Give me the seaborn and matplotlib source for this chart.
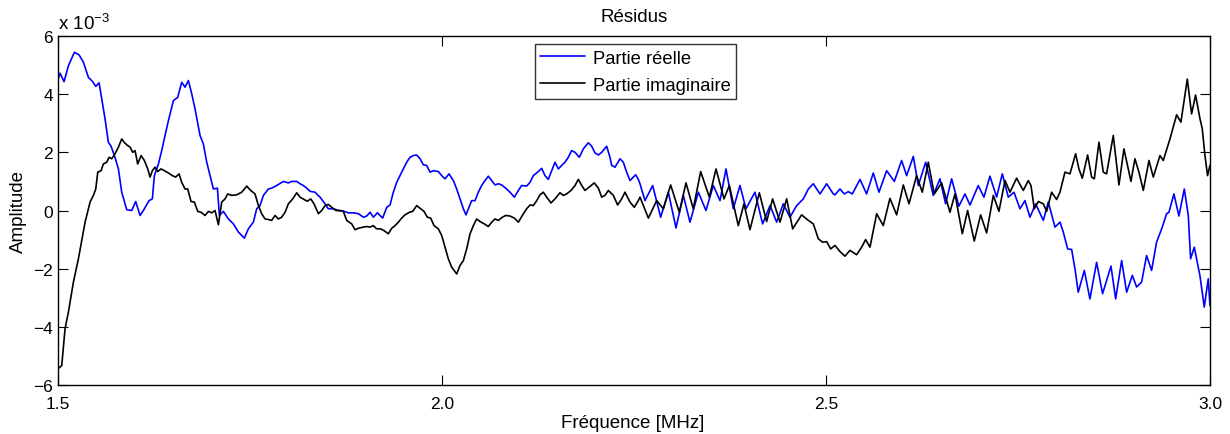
import numpy as np
import pandas as pd
from matplotlib import pyplot as plt
import seaborn as sns

# frequences (MHz) et amplitudes (x 1e-3)
freq_reel = [1.500, 1.5026, 1.5078, 1.5135, 1.5213, 1.5274, 1.5330, 1.5395, 1.5451, 1.5491,
             1.5534, 1.5569, 1.5612, 1.5655, 1.5690, 1.5734, 1.5786, 1.5829, 1.5894, 1.5959,
             1.6011, 1.6068, 1.6111, 1.6185, 1.6228, 1.6254, 1.6307, 1.6350, 1.6393, 1.6437,
             1.6502, 1.6558, 1.6610, 1.6654, 1.6697, 1.6741, 1.6784, 1.6849, 1.6892, 1.6936,
             1.6979, 1.7023, 1.7075, 1.7101, 1.7153, 1.7218, 1.7283, 1.7348, 1.7426, 1.7478,
             1.7543, 1.7587, 1.7630, 1.7674, 1.7739, 1.7782, 1.7847, 1.7934, 1.7999, 1.8043,
             1.8108, 1.8151, 1.8194, 1.8238, 1.8281, 1.8346, 1.8411, 1.8477, 1.8520, 1.8585,
             1.8650, 1.8715, 1.8780, 1.8845, 1.8911, 1.8976, 1.9019, 1.9063, 1.9106, 1.9158,
             1.9227, 1.9280, 1.9323, 1.9366, 1.9410, 1.9475, 1.9540, 1.9583, 1.9627, 1.9670,
             1.9714, 1.9757, 1.9800, 1.9844, 1.9887, 1.9952, 1.9996,
             2.0039, 2.0091, 2.0148, 2.0191, 2.0234, 2.0278, 2.0312, 2.0352, 2.0386, 2.0430,
             2.0473, 2.0516, 2.0560, 2.0603, 2.0647, 2.0690, 2.0733, 2.0777, 2.0842, 2.0885,
             2.0942, 2.0994, 2.1037, 2.1102, 2.1146, 2.1189, 2.1254, 2.1298, 2.1341, 2.1384,
             2.1428, 2.1471, 2.1515, 2.1558, 2.1601, 2.1645, 2.1688, 2.1732, 2.1788, 2.1840,
             2.1905, 2.1949, 2.1992, 2.2036, 2.2079, 2.2144, 2.2187, 2.2209, 2.2253, 2.2318,
             2.2361, 2.2404, 2.2448, 2.2491, 2.2522, 2.2556,
             2.2578, 2.2643, 2.2743, 2.2847, 2.2947, 2.3047, 2.3142, 2.3229, 2.3338, 2.3437,
             2.3533, 2.3620, 2.3698, 2.3793, 2.3880, 2.3958, 2.4075, 2.4175, 2.4271, 2.4358,
             2.4444, 2.4531, 2.4618, 2.4705, 2.4770, 2.4835, 2.4922, 2.5009, 2.5095,
             2.5117, 2.5182, 2.5239, 2.5291, 2.5343, 2.5443, 2.5529, 2.5616, 2.5690, 2.5790,
             2.5890, 2.5985, 2.6050, 2.6137, 2.6202, 2.6298, 2.6397, 2.6484, 2.6558, 2.6636,
             2.6731, 2.6810, 2.6875, 2.6983, 2.7057, 2.7135, 2.7222, 2.7296, 2.7374, 2.7448,
             2.7526,
             2.7591, 2.7656, 2.7730, 2.7830, 2.7895, 2.7982, 2.8047, 2.8090, 2.8147, 2.8199,
             2.8242, 2.8285, 2.8364, 2.8437, 2.8524, 2.8602, 2.8711, 2.8772, 2.8850, 2.8915,
             2.8989, 2.9045, 2.9110, 2.9175, 2.9240, 2.9305, 2.9371, 2.9436, 2.9466, 2.9531,
             2.9596, 2.9666, 2.9718, 2.9748, 2.9796, 2.9835, 2.9869, 2.9926, 2.9978, 3.000]
reel = [4.50, 4.72, 4.43, 4.98, 5.44, 5.35, 5.10, 4.58, 4.43, 4.27,
        4.39, 3.84, 3.15, 2.35, 2.21, 1.89, 1.43, 0.63, 0.03, 0.00,
        0.31, -0.17, 0.00, 0.34, 0.40, 1.20, 1.60, 2.06, 2.58, 3.09,
        3.78, 3.89, 4.41, 4.24, 4.47, 4.01, 3.49, 2.58, 2.29, 1.66,
        1.20, 0.74, 0.77, -0.17, -0.03, -0.29, -0.46, -0.74, -0.95, -0.63,
        -0.40, 0.06, 0.17, 0.52, 0.74, 0.77, 0.86, 1.00, 0.95, 1.00,
        1.00, 0.92, 0.86, 0.77, 0.66, 0.63, 0.46, 0.23, 0.06, 0.06,
        0.00, -0.02, -0.08, -0.08, -0.11, -0.23, -0.19, -0.06, -0.23, -0.08,
        -0.26, 0.11, 0.19, 0.63, 0.97, 1.32, 1.66, 1.83, 1.89, 1.91,
        1.78, 1.57, 1.55, 1.32, 1.37, 1.34, 1.20,
        1.09, 1.26, 1.03, 0.74, 0.40, 0.06, -0.15, 0.11, 0.34, 0.34,
        0.63, 0.86, 1.03, 1.18, 1.03, 0.88, 0.92, 0.88, 0.74, 0.63,
        0.46, 0.69, 0.86, 0.84, 0.97, 1.20, 1.34, 1.45, 1.20, 1.07,
        1.37, 1.66, 1.43, 1.55, 1.66, 1.83, 2.06, 2.00, 1.83, 2.12,
        2.33, 2.21, 1.98, 1.91, 2.00, 2.21, 1.83, 1.55, 1.49, 1.78,
        1.66, 1.32, 1.03, 1.15, 1.23, 1.07,
        0.92, 0.34, 0.86, -0.23, 0.63, -0.60, 0.52, -0.40, 0.63, 0.00,
        0.86, 0.34, 1.43, 0.06, 0.86, 0.06, 0.63, -0.46, 0.17, -0.40,
        0.23, -0.23, 0.17, 0.40, 0.74, 0.92, 0.57, 0.92, 0.57,
        0.54, 0.74, 0.57, 0.65, 0.57, 1.07, 0.57, 1.29, 0.63, 1.37,
        1.00, 1.72, 1.20, 1.86, 0.86, 1.66, 0.52, 1.09, 0.23, 1.09,
        0.15, 0.57, 0.19, 0.86, 0.46, 1.18, 0.46, 1.26, 0.46, 0.63,
        0.06,
        0.34, -0.23, 0.23, -0.34, 0.29, -0.57, -0.40, -0.74, -1.32, -1.34,
        -2.00, -2.81, -2.06, -3.04, -1.78, -2.86, -1.91, -3.04, -1.72, -2.81,
        -2.23, -2.63, -2.46, -1.55, -2.06, -1.09, -0.63, -0.11, -0.06, 0.57,
        -0.19, 0.74, -0.17, -1.66, -1.26, -1.78, -2.23, -3.32, -2.35, -3.26]

freq_imag = [1.500, 1.5048, 1.5091, 1.5135, 1.5200, 1.5265, 1.5352, 1.5417, 1.5460, 1.5491,
             1.5517, 1.5560, 1.5590, 1.5634, 1.5664, 1.5699, 1.5742, 1.5786, 1.5829, 1.5859,
             1.5894, 1.5938, 1.5972, 1.6003, 1.6037, 1.6081, 1.6124, 1.6168, 1.6198, 1.6228,
             1.6263, 1.6298, 1.6341, 1.6385, 1.6437, 1.6489, 1.6532, 1.6576, 1.6610, 1.6654,
             1.6688, 1.6732, 1.6775, 1.6819, 1.6862, 1.6914, 1.6958, 1.7001, 1.7044, 1.7088,
             1.7131, 1.7175, 1.7209, 1.7261, 1.7326, 1.7392, 1.7457,
             1.7500, 1.7565, 1.7609, 1.7652, 1.7695, 1.7739, 1.7782, 1.7826, 1.7869, 1.7912,
             1.7956, 1.7999, 1.8056, 1.8108, 1.8151, 1.8203, 1.8247, 1.8290, 1.8333, 1.8390,
             1.8433, 1.8477, 1.8520, 1.8563, 1.8620, 1.8672, 1.8715, 1.8759, 1.8824, 1.8867,
             1.8911, 1.8976, 1.9019, 1.9063, 1.9106, 1.9149, 1.9201, 1.9245, 1.9301, 1.9345,
             1.9388, 1.9431, 1.9475, 1.9518, 1.9575, 1.9618, 1.9670, 1.9722, 1.9766, 1.9809,
             1.9852, 1.9896, 1.9952, 1.9996,
             2.0039, 2.0082, 2.0126, 2.0191, 2.0234, 2.0278, 2.0321, 2.0365, 2.0408, 2.0451,
             2.0495, 2.0551, 2.0603, 2.0647, 2.0690, 2.0733, 2.0786, 2.0829, 2.0885, 2.0942,
             2.0994, 2.1046, 2.1102, 2.1146, 2.1189, 2.1233, 2.1276, 2.1319, 2.1363, 2.1419,
             2.1471, 2.1536, 2.1580, 2.1623, 2.1680, 2.1732, 2.1775, 2.1819, 2.1862, 2.1914,
             2.1983, 2.2036, 2.2079, 2.2122, 2.2166, 2.2231, 2.2287, 2.2339, 2.2383, 2.2448,
             2.2504, 2.2556,
             2.2578, 2.2687, 2.2795, 2.2882, 2.2977, 2.3090, 2.3177, 2.3272, 2.3368, 2.3481,
             2.3568, 2.3672, 2.3741, 2.3858, 2.3932, 2.4010, 2.4132, 2.4227, 2.4305, 2.4401,
             2.4488, 2.4566, 2.4683, 2.4770, 2.4835, 2.4900, 2.4956, 2.5009, 2.5061,
             2.5117, 2.5182, 2.5247, 2.5312, 2.5399, 2.5464, 2.5516, 2.5573, 2.5660, 2.5746,
             2.5833, 2.5920, 2.6007, 2.6081, 2.6180, 2.6254, 2.6332, 2.6410, 2.6506, 2.6614,
             2.6680, 2.6775, 2.6844, 2.6931, 2.7014, 2.7092, 2.7179, 2.7252, 2.7331, 2.7396,
             2.7482, 2.7569, 2.7634,
             2.7669, 2.7713, 2.7765, 2.7830, 2.7873, 2.7938, 2.8003, 2.8047, 2.8112, 2.8177,
             2.8251, 2.8294, 2.8338, 2.8407, 2.8459, 2.8494, 2.8555, 2.8611, 2.8654, 2.8741,
             2.8815, 2.8880, 2.8936, 2.8971, 2.9023, 2.9075, 2.9132, 2.9206, 2.9262, 2.9349,
             2.9392, 2.9479, 2.9566, 2.9622, 2.9705, 2.9761, 2.9813, 2.9869, 2.9900, 2.9935,
             2.9969, 3.000]
imag = [-5.44, -5.33, -4.07, -3.49, -2.46, -1.66, -0.40, 0.29, 0.52, 0.74,
        1.32, 1.37, 1.60, 1.66, 1.83, 1.78, 1.95, 2.18, 2.46, 2.35,
        2.26, 2.18, 2.00, 2.06, 1.60, 1.89, 1.72, 1.43, 1.15, 1.37,
        1.49, 1.34, 1.43, 1.37, 1.29, 1.20, 1.15, 1.26, 0.97, 0.74,
        0.74, 0.31, 0.29, -0.03, -0.06, -0.17, -0.03, -0.08, 0.00, -0.49,
        0.29, 0.40, 0.57, 0.52, 0.54, 0.63, 0.84,
        0.71, 0.57, 0.17, -0.11, -0.29, -0.31, -0.34, -0.17, -0.29, -0.23,
        -0.06, 0.23, 0.40, 0.61, 0.46, 0.38, 0.32, 0.40, 0.23, -0.11,
        0.00, 0.17, 0.21, 0.11, 0.00, 0.00, -0.03, -0.34, -0.46, -0.66,
        -0.61, -0.57, -0.55, -0.57, -0.52, -0.63, -0.63, -0.69, -0.80, -0.61,
        -0.52, -0.40, -0.26, -0.15, -0.06, -0.03, 0.17, 0.06, -0.03, -0.23,
        -0.26, -0.52, -0.63, -0.86,
        -1.26, -1.66, -1.95, -2.18, -1.89, -1.72, -1.32, -0.80, -0.52, -0.29,
        -0.38, -0.46, -0.55, -0.40, -0.29, -0.34, -0.23, -0.17, -0.19, -0.26,
        -0.40, -0.17, 0.06, 0.19, 0.17, 0.34, 0.54, 0.63, 0.46, 0.26,
        0.40, 0.61, 0.52, 0.57, 0.69, 0.86, 1.07, 0.86, 0.69, 0.80,
        0.95, 0.77, 0.46, 0.52, 0.69, 0.52, 0.19, 0.40, 0.63, 0.29,
        0.11, 0.34,
        0.46, -0.26, 0.34, 0.06, 0.88, -0.06, 0.95, 0.06, 1.34, 0.46,
        1.43, 0.40, 0.86, -0.52, 0.23, -0.66, 0.61, -0.38, 0.40, -0.40,
        0.40, -0.63, -0.15, -0.34, -0.46, -0.97, -1.09, -1.07, -1.32,
        -1.20, -1.41, -1.57, -1.37, -1.52, -1.26, -1.00, -1.26, -0.11, -0.52,
        0.42, -0.15, 0.88, 0.23, 1.20, 0.63, 1.66, 0.57, 0.95, -0.06,
        0.57, -0.80, 0.00, -1.05, -0.15, -0.77, 0.52, -0.03, 1.03, 0.63,
        1.11, 0.69, 1.03,
        0.86, 0.06, 0.31, 0.23, -0.03, 0.63, 0.38, 0.63, 1.32, 1.26,
        1.95, 1.43, 1.11, 1.91, 1.15, 1.09, 2.35, 1.32, 1.26, 2.58,
        0.88, 2.12, 1.43, 1.00, 1.78, 1.32, 0.69, 1.72, 1.15, 1.89,
        1.72, 2.46, 3.29, 3.04, 4.52, 3.32, 3.97, 3.17, 2.81, 1.89,
        1.20, 1.55]

x_ticks = [1.5, 2.0, 2.5, 3.0]
x_labels = ['1.5', '2.0', '2.5', '3.0']
y_ticks = [-6, -4, -2, 0, 2, 4, 6]

sns.set_style('ticks')
plt.rcParams['font.family'] = ['Liberation Sans', 'DejaVu Sans']
plt.rcParams['mathtext.fontset'] = 'custom'
plt.rcParams['mathtext.rm'] = 'Liberation Sans'
plt.rcParams['text.color'] = 'black'
plt.rcParams['axes.labelcolor'] = 'black'

df_reel = pd.DataFrame({'f': freq_reel, 'a': reel})
df_imag = pd.DataFrame({'f': freq_imag, 'a': imag})

fig = plt.figure(figsize=(12.3, 4.35), dpi=100)
ax = fig.add_axes([0.0472, 0.1126, 0.9365, 0.8023])

sns.lineplot(data=df_reel, x='f', y='a', color='#0000ff', lw=1.2, sort=False,
             estimator=None, label='Partie réelle', ax=ax)
sns.lineplot(data=df_imag, x='f', y='a', color='black', lw=1.2, sort=False,
             estimator=None, label='Partie imaginaire', ax=ax)

ax.set_xlim(1.5, 3.0)
ax.set_ylim(-6, 6)
ax.set_xticks(x_ticks)
ax.set_xticklabels(x_labels)
ax.set_yticks(y_ticks)
ax.tick_params(direction='in', length=7, width=0.8, top=True, right=True,
               labelsize=12.5, colors='black')
ax.tick_params(axis='x', pad=8)
for s in ax.spines.values():
    s.set_visible(True)
    s.set_linewidth(1.0)
    s.set_color('black')

ax.set_xlabel('Fréquence [MHz]', fontsize=13.5, va='top', color='black')
ax.xaxis.set_label_coords(0.499, -0.083)
ax.set_ylabel('Amplitude', fontsize=13.5, color='black')
ax.yaxis.set_label_coords(-0.027, 0.5)
ax.set_title('Résidus', fontsize=13.5, pad=11, color='black')
ax.text(0.0, 1.02, r'x 10$^{-3}$', transform=ax.transAxes, fontsize=13.5,
        ha='left', va='baseline', color='black')

leg = ax.legend(loc='upper center', bbox_to_anchor=(0.5013, 0.977), borderaxespad=0,
                fontsize=13.2, frameon=True, fancybox=False, borderpad=0.3,
                handlelength=2.45, labelspacing=0.55, handletextpad=0.4)
leg.get_frame().set_edgecolor('black')
leg.get_frame().set_linewidth(1.0)
for t in leg.get_texts():
    t.set_color('black')

fig.savefig('out.png', dpi=100)
